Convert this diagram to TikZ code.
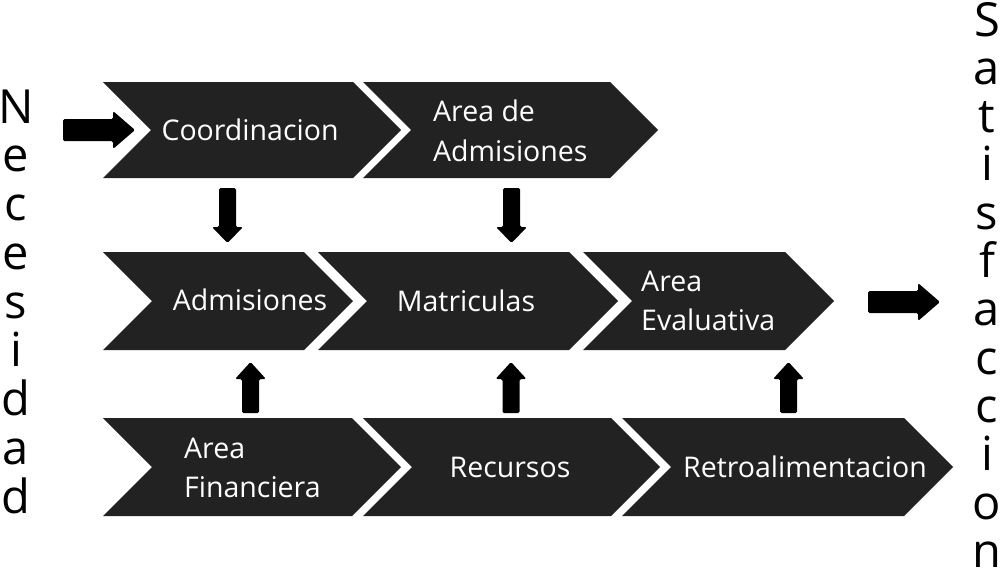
\documentclass[tikz,border=0pt]{standalone}
\usepackage{fontspec}
\setmainfont{Open Sans}
\definecolor{chevgray}{HTML}{222222}
\tikzset{
  chevfill/.style={fill=chevgray},
  blk/.style={fill=black, rounded corners=1.5pt},
  chevtext/.style={text=white, font=\fontsize{28.5}{39.5}\selectfont, inner sep=0pt, align=left},
  vletter/.style={font=\fontsize{47}{47}\selectfont, inner sep=0pt, anchor=base},
  downarr/.pic={\fill[blk] (-8.5,0) -- (8.5,0) -- (8.5,39) -- (15.5,39) -- (0,55) -- (-15.5,39) -- (-8.5,39) -- cycle;},
  uparr/.pic={\fill[blk] (0,0) -- (15.5,17) -- (8.5,17) -- (8.5,51) -- (-8.5,51) -- (-8.5,17) -- (-15.5,17) -- cycle;},
  rightarr/.pic={\fill[blk] (0,-11) -- (50,-11) -- (50,-19) -- (72,0) -- (50,19) -- (50,11) -- (0,11) -- cycle;}
}
\newcommand\mychev[4]{%
  \fill[chevfill] (#1,#3) -- (#2,#3) -- ({#2+(#4-#3)/2},{(#3+#4)/2}) -- (#2,#4) -- (#1,#4) -- ({#1+(#4-#3)/2},{(#3+#4)/2}) -- cycle;}
\begin{document}
\begin{tikzpicture}[x=1pt,y=-1pt]
\fill[white] (0,0) rectangle (1000,579);
\useasboundingbox (0,0) rectangle (1000,579);
% row 1
\mychev{103}{353}{82}{178}
\mychev{363}{610}{82}{178}
% row 2
\mychev{103}{304}{252}{350}
\mychev{318}{569}{252}{350}
\mychev{583}{785}{252}{350}
% row 3
\mychev{103}{352}{418}{516}
\mychev{363}{611}{418}{516}
\mychev{622}{904}{418}{516}
% texts
\node[chevtext] (coord) at (250,130) {Coordinacion};
\node[chevtext, anchor=west] (areaadm) at (433,131) {Area de\\Admisiones};
\node[chevtext] (adm) at (250,300) {Admisiones};
\node[chevtext] (mat) at (466,301) {Matriculas};
\node[chevtext, anchor=west] (evalu) at (641,301) {Area\\Evaluativa};
\node[chevtext, anchor=west] (finan) at (184,468) {Area\\Financiera};
\node[chevtext] (recur) at (510,467) {Recursos};
\node[chevtext] (retro) at (805,467) {Retroalimentacion};
% block arrows
\pic at (63,130) {rightarr};
\pic at (868,302) {rightarr};
\pic at (227.5,188) {downarr};
\pic at (511.5,188) {downarr};
\pic at (250.5,362) {uparr};
\pic at (511,362) {uparr};
\pic at (788.5,362) {uparr};
% vertical words
\foreach \ch [count=\i] in {N,e,c,e,s,i,d,a,d}
  \node[vletter, name=nec\i] at (16,{123+48.75*(\i-1)}) {\ch};
\foreach \ch [count=\i] in {S,a,t,i,s,f,a,c,c,i,o,n}
  \node[vletter, name=sat\i] at (987,{36+48.3*(\i-1)}) {\ch};
\end{tikzpicture}
\end{document}
